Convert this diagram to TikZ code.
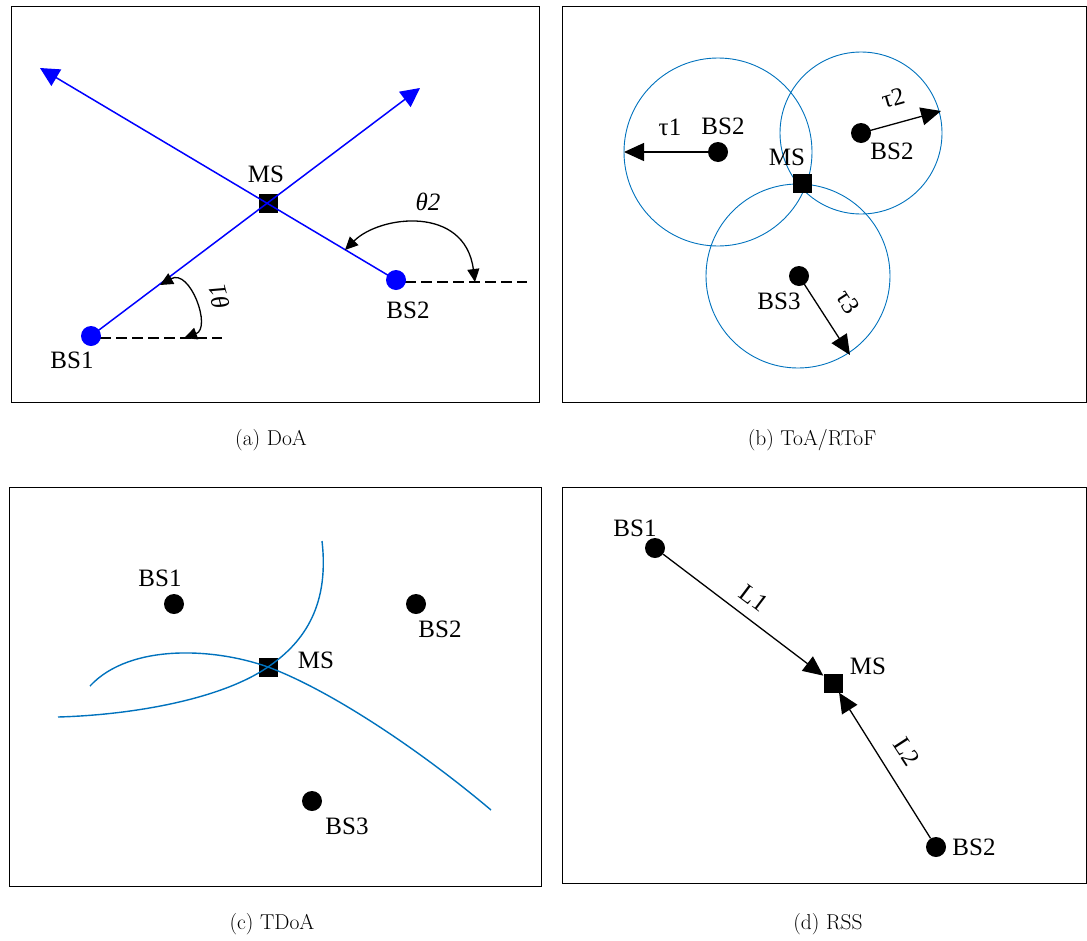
\documentclass[tikz,border=0pt]{standalone}
\usepackage{fontspec}
\newfontfamily\tnr{Liberation Serif}
\usetikzlibrary{arrows.meta}
\definecolor{mblue}{RGB}{0,114,189}
\begin{document}
\begin{tikzpicture}[x=1pt,y=-1pt,
  frame/.style={draw=black,line width=0.8pt},
  dot/.style={circle,fill=black,inner sep=0pt,minimum size=20pt},
  bdot/.style={dot,fill=blue},
  ms/.style={rectangle,fill=black,inner sep=0pt,minimum size=19pt},
  lab/.style={inner sep=0pt,font=\tnr\fontsize{25}{30}\selectfont},
  captext/.style={inner sep=0pt,font=\fontsize{21.5}{25}\selectfont},
  blueline/.style={draw=blue,line width=1.5pt},
  dline/.style={draw=black,line width=1.1pt,dash pattern=on 11pt off 5pt},
  bigtip/.style={line width=1.3pt,-{Triangle[length=20pt,width=18pt]}},
  bluetip/.style={blueline,-{Triangle[length=19pt,width=19pt]}},
  angtip/.style={line width=1.3pt,{Triangle[length=13pt,width=12pt]}-{Triangle[length=13pt,width=12pt]}},
  curve/.style={draw=mblue,line width=1.4pt},
  ring/.style={draw=mblue,line width=0.9pt}
]
\useasboundingbox (0,0) rectangle (1087,940);

% ---------- frames ----------
\draw[frame] (11,6) rectangle (539,402);
\draw[frame] (562,6) rectangle (1086.4,402);
\draw[frame] (9,487) rectangle (541,886);
\draw[frame] (562,487) rectangle (1086.4,883);

% ---------- captions ----------
\node[captext] (capa) at (271,440) {(a) DoA};
\node[captext] (capb) at (812,440) {(b) ToA/RToF};
\node[captext] (capc) at (272,924) {(c) TDoA};
\node[captext] (capd) at (828,924) {(d) RSS};

% ---------- (a) DoA ----------
\node[ms] (msa) at (268,203) {};
\coordinate (tipa1) at (420,88);
\coordinate (tipa2) at (40,68);
\coordinate (bsa1c) at (91,336);
\coordinate (bsa2c) at (396,280);
\coordinate (dsha1) at (222,338);
\coordinate (dsha2) at (527,282);
\draw[bluetip] (bsa1c) -- (tipa1);
\draw[bluetip] (bsa2c) -- (tipa2);
\draw[dline] (100,338) -- (dsha1);
\draw[dline] (405,282) -- (dsha2);
\coordinate (arc1s) at (160,285);
\coordinate (arc1e) at (184,338);
\draw[angtip] (arc1s) .. controls (190,268) and (212,328) .. (arc1e);
\coordinate (arc2s) at (345,250);
\coordinate (arc2e) at (475,282);
\draw[angtip] (arc2s) .. controls (380,215) and (465,205) .. (arc2e);
\node[bdot] (bsa1) at (bsa1c) {};
\node[bdot] (bsa2) at (bsa2c) {};
\node[lab] (lmsa) at (266,174) {MS};
\node[lab] (lbsa1) at (72,360) {BS1};
\node[lab] (lbsa2) at (408,310) {BS2};
\node[lab,rotate=105] (lth1) at (219,297) {\itshape θ1};
\node[lab] (lth2) at (428,202) {\itshape θ2};

% ---------- (b) ToA/RToF ----------
\draw[ring] (718,152) circle[radius=94];
\draw[ring] (861,133) circle[radius=81];
\draw[ring] (798,276) circle[radius=92];
\node[dot] (bsb1) at (718,152) {};
\node[dot] (bsb2) at (861,133) {};
\node[dot] (bsb3) at (799,276) {};
\node[ms] (msb) at (802,183) {};
\coordinate (tipb1) at (624,152);
\coordinate (tipb2) at (941,111);
\coordinate (tipb3) at (850,355);
\draw[bigtip] (bsb1.center) -- (tipb1);
\draw[bigtip] (bsb2.center) -- (tipb2);
\draw[bigtip] (bsb3.center) -- (tipb3);
\node[lab] (ltau1) at (670,127) {τ1};
\node[lab] (lbsb1) at (723,126) {BS2};
\node[lab] (lmsb) at (787,157) {MS};
\node[lab,rotate=16] (ltau2) at (893,98) {τ2};
\node[lab] (lbsb2) at (892,151) {BS2};
\node[lab] (lbsb3) at (779,301) {BS3};
\node[lab,rotate=-57] (ltau3) at (848,302) {τ3};

% ---------- (c) TDoA ----------
\node[ms] (msc) at (268,667) {};
\coordinate (ca1) at (322,541);
\coordinate (ca2) at (58,717);
\coordinate (cb1) at (90,686);
\coordinate (cb2) at (491,810);
\draw[curve] (ca1) .. controls (330,610) and (300,645) .. (msc.center)
  .. controls (220,700) and (130,715) .. (ca2);
\draw[curve] (cb1) .. controls (130,643) and (215,648) .. (msc.center)
  .. controls (330,690) and (420,750) .. (cb2);
\node[dot] (bsc1) at (174,604) {};
\node[dot] (bsc2) at (416,604) {};
\node[dot] (bsc3) at (312,801) {};
\node[lab] (lbsc1) at (160,578) {BS1};
\node[lab] (lbsc2) at (440,629) {BS2};
\node[lab] (lbsc3) at (347,826) {BS3};
\node[lab] (lmsc) at (316,660) {MS};

% ---------- (d) RSS ----------
\node[dot] (bsd1) at (655,548) {};
\node[dot] (bsd2) at (936,847) {};
\node[ms] (msd) at (833,683) {};
\draw[bigtip] (bsd1) -- (msd);
\draw[bigtip] (bsd2) -- (msd);
\node[lab] (lbsd1) at (635,528) {BS1};
\node[lab] (lmsd) at (868,666) {MS};
\node[lab] (lbsd2) at (974,847) {BS2};
\node[lab,rotate=-37] (ll1) at (754,598) {L1};
\node[lab,rotate=-57] (ll2) at (907,752) {L2};
\end{tikzpicture}
\end{document}
